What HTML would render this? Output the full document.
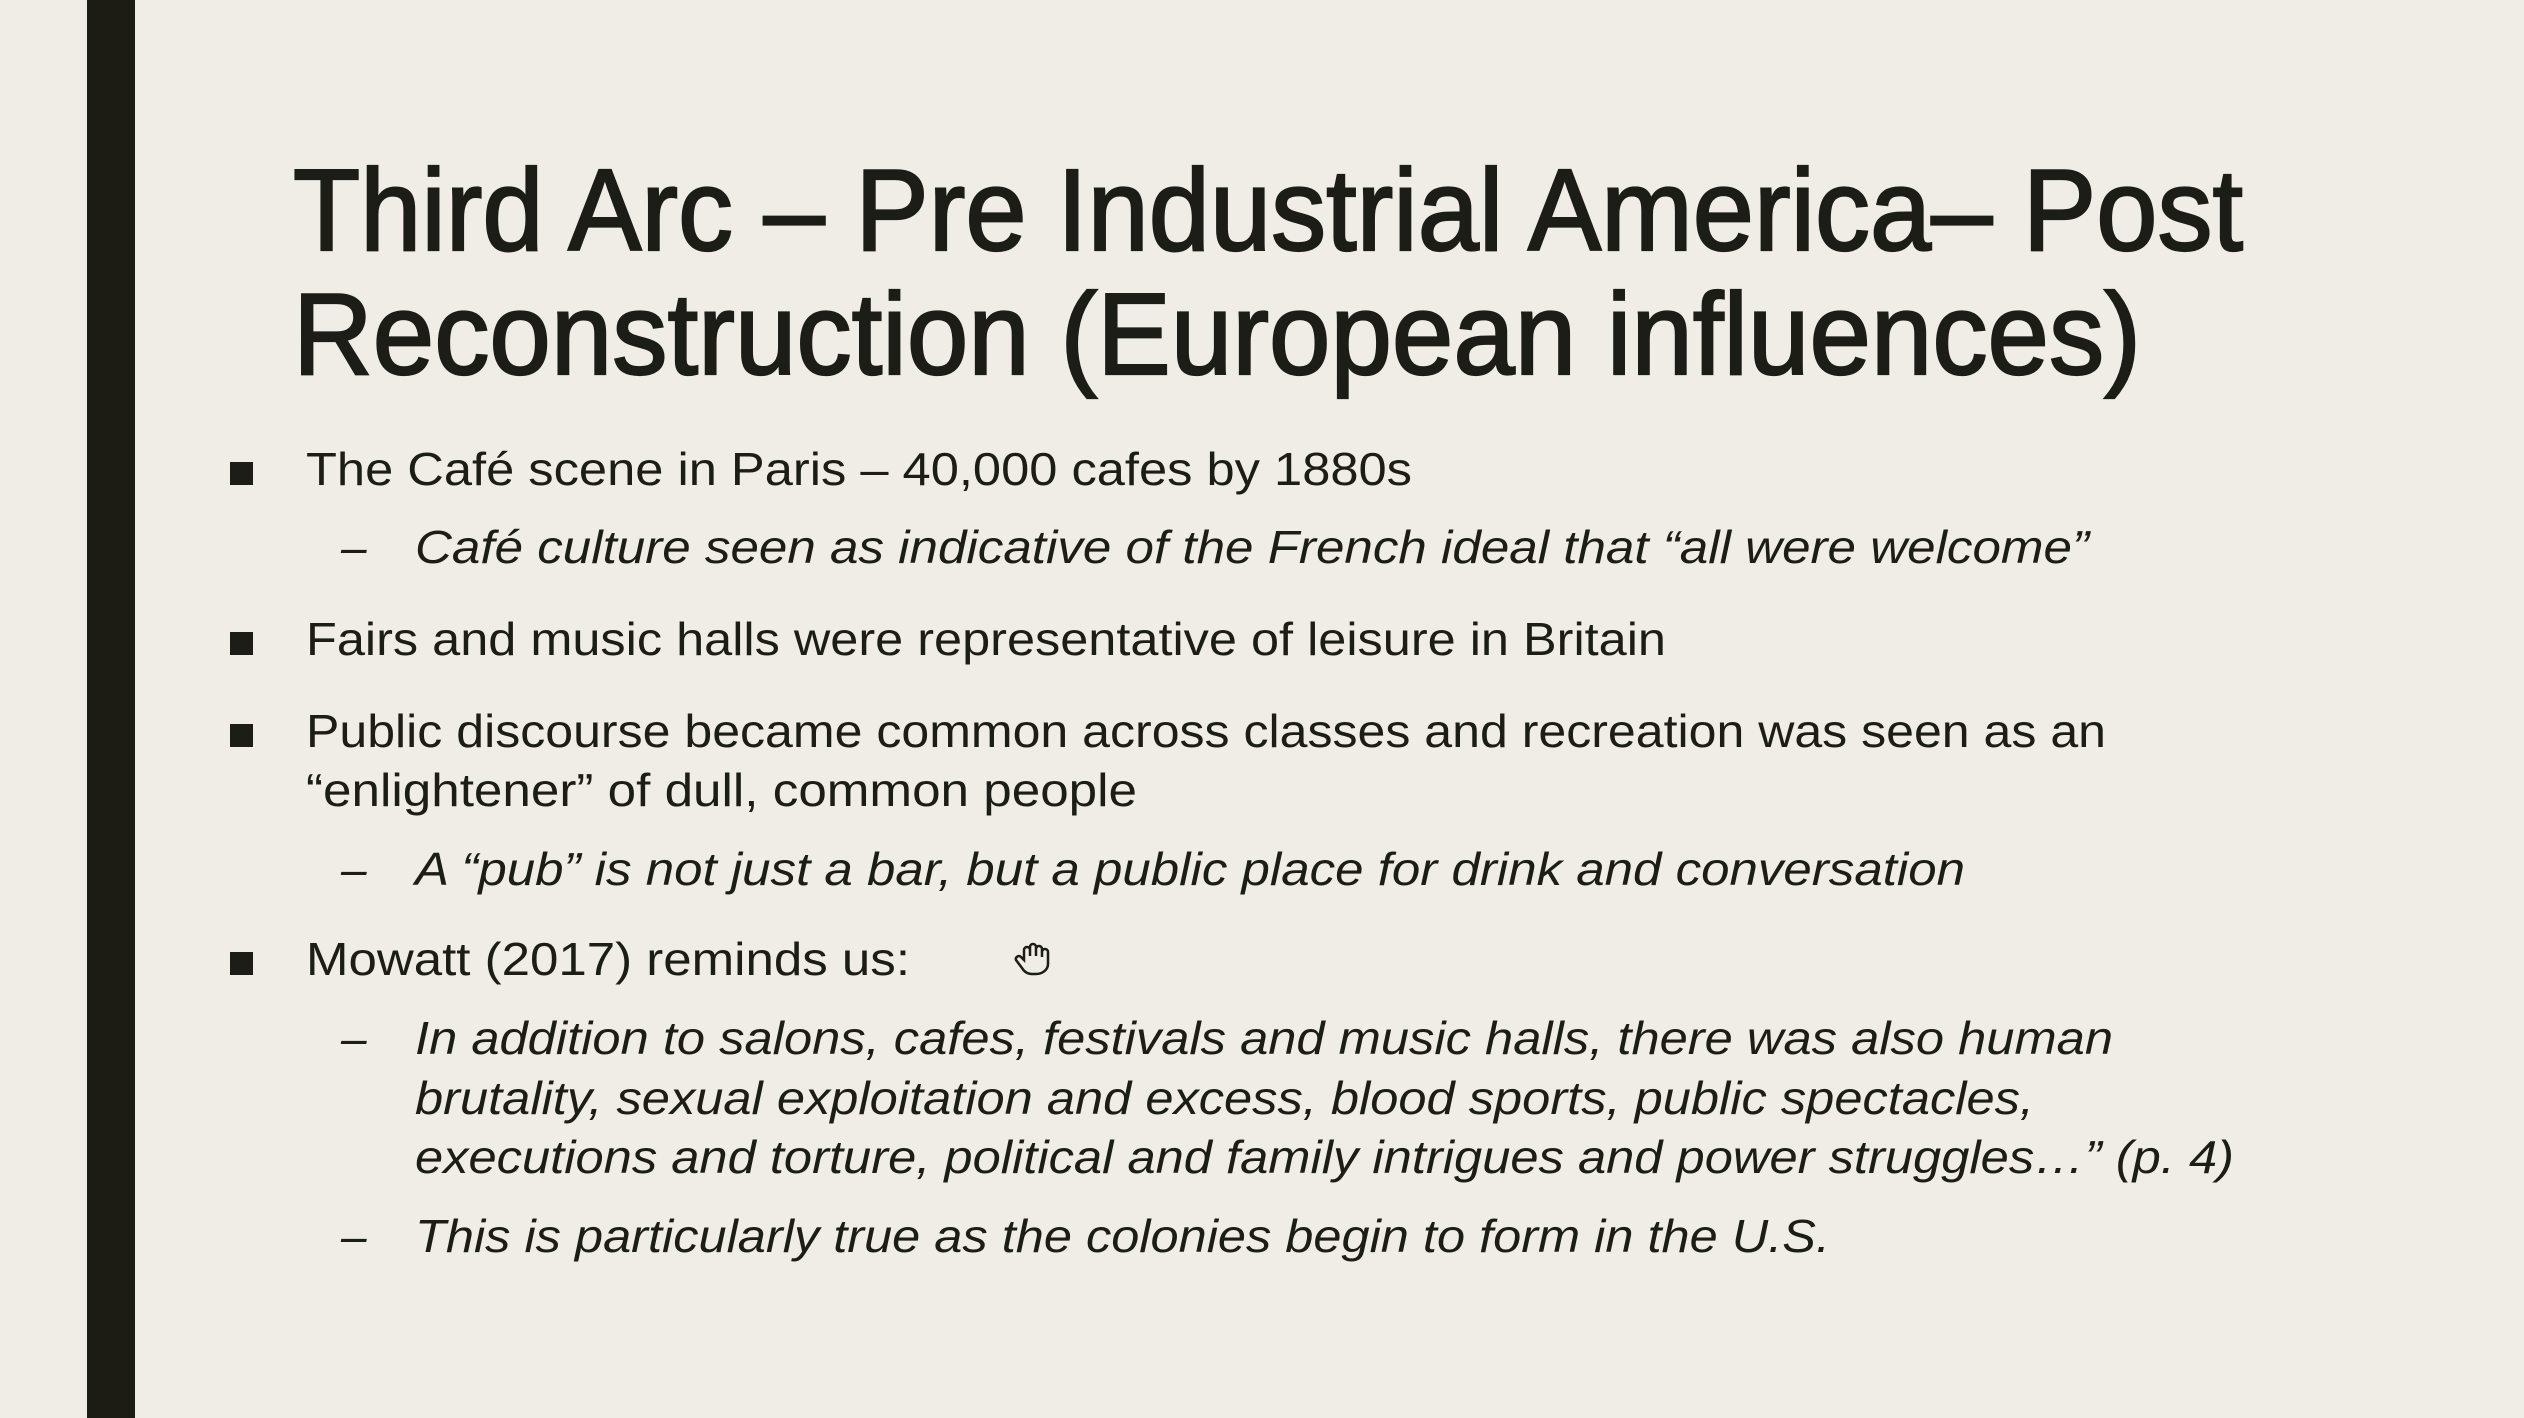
<!DOCTYPE html>
<html><head><meta charset="utf-8"><style>
html,body{margin:0;padding:0;background:#efede6;}
svg{display:block;}
text{font-family:"Liberation Sans",sans-serif;fill:#1d1d17;}
.t{font-size:116px;font-weight:normal;stroke:#1d1d17;stroke-width:2.2px;}
.b{font-size:46px;}
.s{font-size:46px;font-style:italic;}
</style></head><body>
<svg width="2524" height="1418" viewBox="0 0 2524 1418">
<rect x="0" y="0" width="2524" height="1418" fill="#efede6"/>
<rect x="87" y="0" width="48" height="1418" fill="#1c1c14"/>
<g>
<text class="t" x="293" y="250" textLength="1950" lengthAdjust="spacingAndGlyphs">Third Arc – Pre Industrial America– Post</text>
<text class="t" x="293" y="374" textLength="1848" lengthAdjust="spacingAndGlyphs">Reconstruction (European influences)</text>
</g>
<g fill="#1d1d17">
<rect x="230" y="462" width="23" height="23" fill="#1d1d17"/>
<text class="b" x="306" y="485" textLength="1106" lengthAdjust="spacingAndGlyphs">The Café scene in Paris – 40,000 cafes by 1880s</text>
<text class="s" x="341" y="563">–</text>
<text class="s" x="415" y="563" textLength="1674" lengthAdjust="spacingAndGlyphs">Café culture seen as indicative  of the French ideal that “all were welcome”</text>
<rect x="230" y="632" width="23" height="23" fill="#1d1d17"/>
<text class="b" x="306" y="655" textLength="1360" lengthAdjust="spacingAndGlyphs">Fairs and music halls were representative of leisure in Britain</text>
<rect x="230" y="724" width="23" height="23" fill="#1d1d17"/>
<text class="b" x="306" y="747" textLength="1800" lengthAdjust="spacingAndGlyphs">Public discourse became common across classes and recreation was seen as an</text>
<text class="b" x="306" y="806" textLength="831" lengthAdjust="spacingAndGlyphs">“enlightener” of dull, common people</text>
<text class="s" x="341" y="885">–</text>
<text class="s" x="415" y="885" textLength="1550" lengthAdjust="spacingAndGlyphs">A “pub” is not just a bar, but a public place for drink and conversation</text>
<rect x="230" y="952" width="23" height="23" fill="#1d1d17"/>
<text class="b" x="306" y="975" textLength="604" lengthAdjust="spacingAndGlyphs">Mowatt (2017) reminds us:</text>
<g fill="none" stroke="#1d1d17" stroke-width="2.5">
<path d="M1024 960 v-10 a3 3 0 0 1 6 0 v6 v-9 a3 3 0 0 1 6 0 v9 v-7 a3 3 0 0 1 6 0 v8 v-5 a3 3 0 0 1 6 0 v12 a12 10 0 0 1 -12 10 h-4 a12 12 0 0 1 -10 -6 l-6 -8 a3 3 0 0 1 5 -3 z"/>
</g>
<text class="s" x="341" y="1054">–</text>
<text class="s" x="415" y="1054" textLength="1698" lengthAdjust="spacingAndGlyphs">In addition to salons, cafes, festivals and music halls, there was also human</text>
<text class="s" x="415" y="1114" textLength="1619" lengthAdjust="spacingAndGlyphs">brutality, sexual exploitation and excess, blood sports, public spectacles,</text>
<text class="s" x="415" y="1173" textLength="1819" lengthAdjust="spacingAndGlyphs">executions and torture, political and family intrigues and power struggles…” (p. 4)</text>
<text class="s" x="341" y="1252">–</text>
<text class="s" x="415" y="1252" textLength="1415" lengthAdjust="spacingAndGlyphs">This is particularly true as the colonies begin to form in the U.S.</text>
</g>
</svg>
</body></html>
